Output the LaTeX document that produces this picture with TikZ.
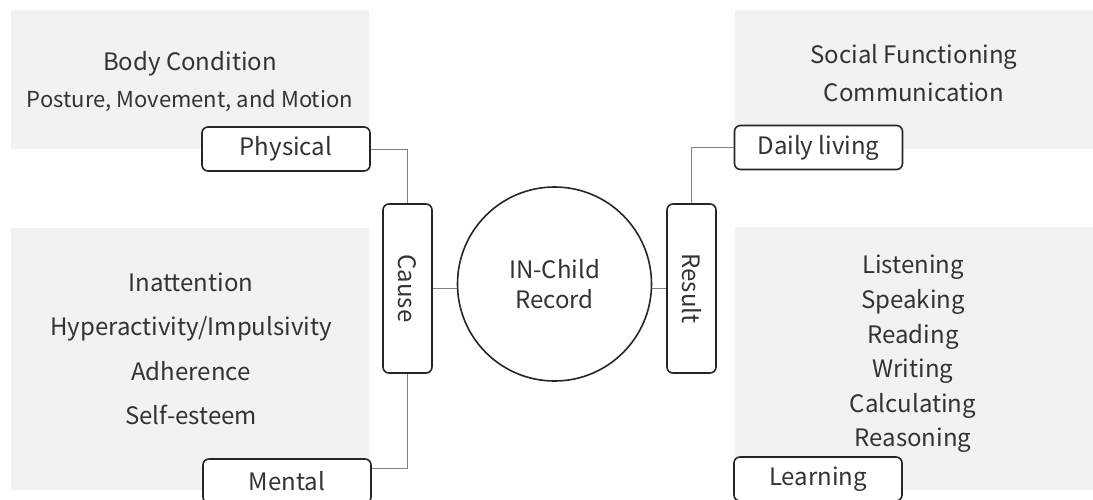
\documentclass[tikz,border=0pt]{standalone}
\usepackage{fontspec}
\usepackage{graphicx}
\setmainfont{Noto Sans CJK JP}
\usetikzlibrary{positioning}
\definecolor{panelgray}{HTML}{F2F2F2}
\definecolor{inkgray}{HTML}{333333}
\definecolor{linkgray}{HTML}{808080}
\newcommand{\txtsize}[1]{\fontsize{24}{#1}\selectfont}
\tikzset{
  panel/.style={fill=panelgray, anchor=north west, inner sep=0pt, minimum width=358pt},
  paneltext/.style={align=center, text=inkgray, inner sep=0pt},
  tagbox/.style={draw=black!85, line width=1.6pt, rounded corners=6pt, fill=white,
    minimum width=168pt, minimum height=44pt, inner sep=0pt, text=inkgray, font=\txtsize{28}},
  barbox/.style={draw=black!85, line width=1.6pt, rounded corners=6pt, fill=white,
    minimum width=49pt, minimum height=169pt, inner sep=0pt, text=inkgray, font=\txtsize{28}},
  link/.style={draw=linkgray, line width=0.9pt}
}
\begin{document}
\begin{tikzpicture}[x=1pt,y=-1pt]
  \clip (0,0) rectangle (1093,499);
  \fill[white] (0,0) rectangle (1093,499);

  % grey panels
  \node[panel, minimum height=139pt] (bodypanel) at (11,10) {};
  \node[panel, minimum height=262pt] (mindpanel) at (11,228) {};
  \node[panel, minimum height=139pt] (socialpanel) at (735,10) {};
  \node[panel, minimum height=263pt] (learnpanel) at (735,227) {};

  % panel texts
  \node[paneltext, font=\txtsize{37}] (bodytext) at (190,82)
    {Body Condition\\{\fontsize{22}{37}\selectfont Posture, Movement, and Motion}};
  \node[paneltext, font=\txtsize{44.5}] (mindtext) at (191,349)
    {Inattention\\Hyperactivity/Impulsivity\\Adherence\\Self-esteem};
  \node[paneltext, font=\txtsize{38}] (socialtext) at (914,73)
    {Social Functioning\\Communication};
  \node[paneltext, font=\txtsize{34.6}] (learntext) at (913,354)
    {Listening\\Speaking\\Reading\\Writing\\Calculating\\Reasoning};

  % labels
  \node[tagbox] (physical) at (286,149) {Physical};
  \node[tagbox] (mental) at (287,481) {Mental};
  \node[tagbox] (daily) at (818.5,147.5) {Daily living};
  \node[tagbox] (learning) at (818,479) {Learning};

  \node[barbox] (cause) at (407.5,288.5) {\rotatebox{-90}{Cause}};
  \node[barbox] (result) at (691.5,288.5) {\rotatebox{-90}{Result}};

  \node[circle, draw=black!85, line width=1.6pt, minimum size=194pt, inner sep=0pt,
    align=center, text=inkgray, font=\txtsize{30}] (record) at (554.5,284) {IN-Child\\Record};

  % connectors
  \draw[link] (physical.east) -| (cause.north);
  \draw[link] (cause.south) |- ([yshift=-10pt]mental.north east);
  \draw[link] (daily.west) -| (result.north);
  \draw[link] (cause.east) -- (cause.east -| record.west);
  \draw[link] (result.west) -- (result.west -| record.east);
\end{tikzpicture}
\end{document}
